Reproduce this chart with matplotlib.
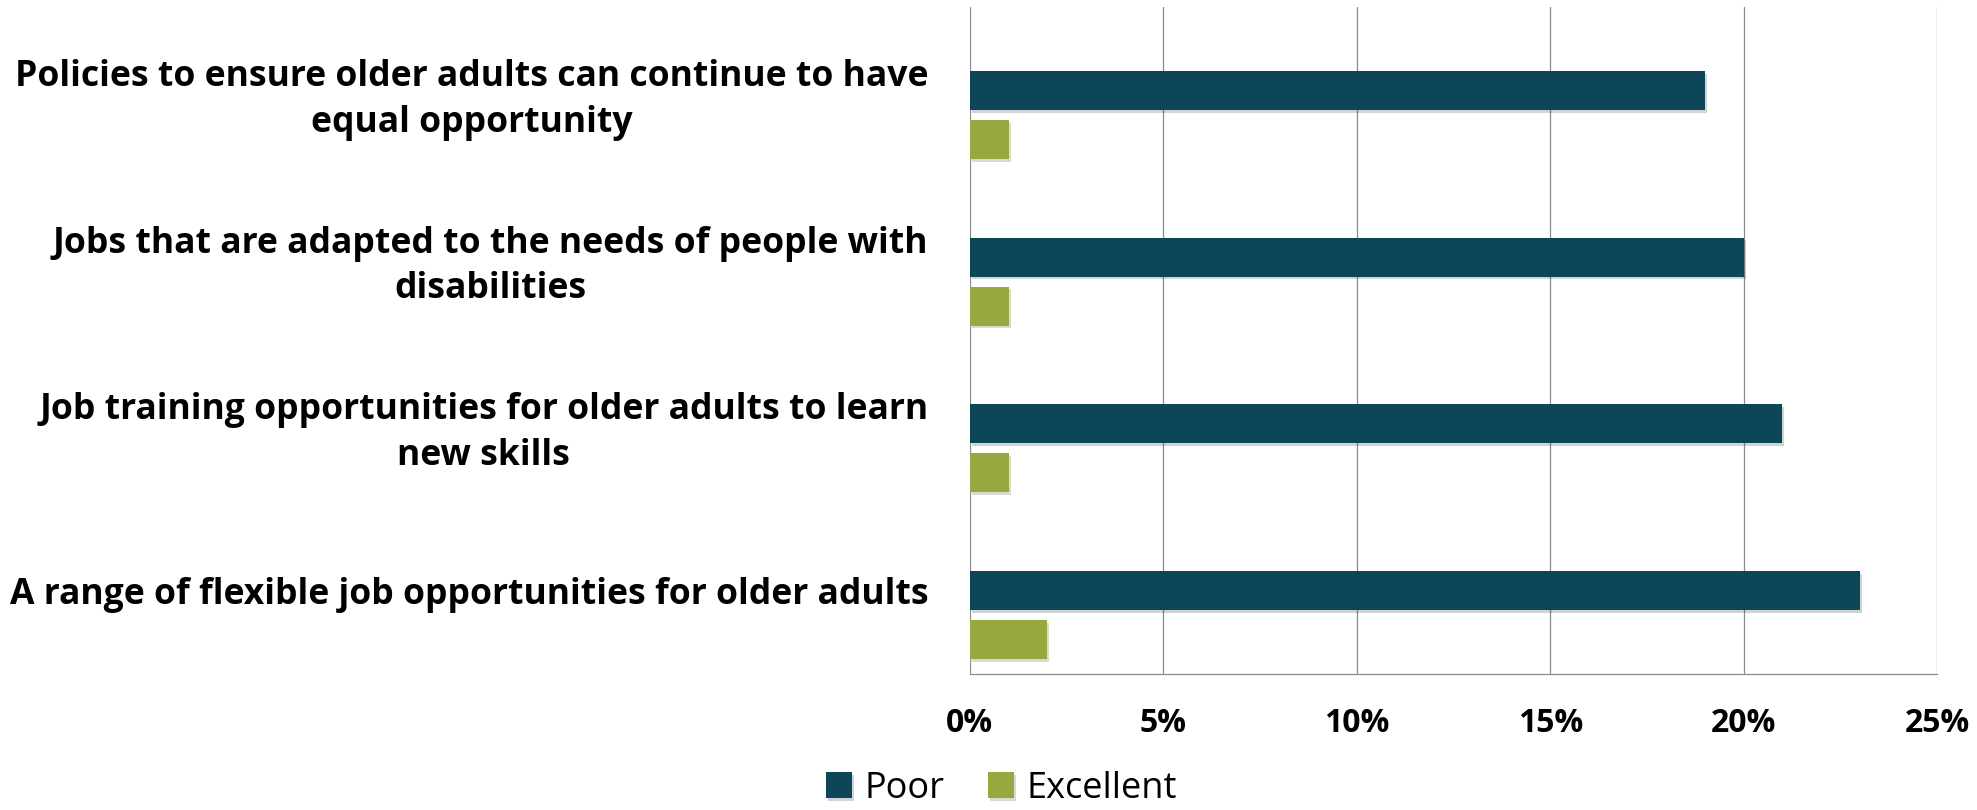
import matplotlib.pyplot as plt
import matplotlib.patheffects as pe
import numpy as np

# data
categorias = ['Policies to ensure older adults can continue to have\nequal opportunity',
              'Jobs that are adapted to the needs of people with\ndisabilities',
              'Job training opportunities for older adults to learn\nnew skills',
              'A range of flexible job opportunities for older adults']
poor = [19, 20, 21, 23]
excellent = [1, 1, 1, 2]
ticks_x = [0, 5, 10, 15, 20, 25]

cor_poor = '#0e4659'
cor_exc = '#97a83e'

plt.rcParams['font.family'] = ['Open Sans', 'DejaVu Sans']

fig = plt.figure(figsize=(19.77, 8.10), dpi=100)
ax = fig.add_axes([0.4906, 0.1679, 0.9798 - 0.4906, 0.9914 - 0.1679])

y = np.arange(len(categorias))
altura = 0.234
sombra = [pe.SimplePatchShadow(offset=(1.5, -2), alpha=0.18), pe.Normal()]

b1 = ax.barh(y, poor, height=altura, color=cor_poor, label='Poor', zorder=3)
b2 = ax.barh(y + 0.294, excellent, height=altura, color=cor_exc, label='Excellent', zorder=3)
for b in list(b1) + list(b2):
    b.set_path_effects(sombra)

ax.set_xlim(0, 25)
ax.set_ylim(3.5, -0.5)
ax.set_xticks(ticks_x)
ax.set_xticklabels([f'{t}%' for t in ticks_x], fontsize=23, fontweight='bold')
ax.set_yticks(y)
ax.set_yticklabels(categorias, fontsize=25.6, fontweight='bold', multialignment='center',
                   linespacing=1.36)
ax.tick_params(axis='both', length=0)
ax.tick_params(axis='y', pad=30)
ax.tick_params(axis='x', pad=24)

ax.grid(axis='x', color='#8c8c8c', linewidth=0.9, zorder=0)
ax.spines['top'].set_visible(False)
ax.spines['left'].set_visible(False)
ax.spines['right'].set_visible(False)
ax.spines['bottom'].set_color('#8c8c8c')
ax.spines['bottom'].set_linewidth(0.9)

fig.legend(handles=[b1, b2], loc='lower center', bbox_to_anchor=(0.5064, -0.036), ncol=2,
           frameon=False, fontsize=26, handlelength=0.72, handleheight=0.72,
           handletextpad=0.35, columnspacing=1.2)

plt.savefig('out.png', dpi=100)
